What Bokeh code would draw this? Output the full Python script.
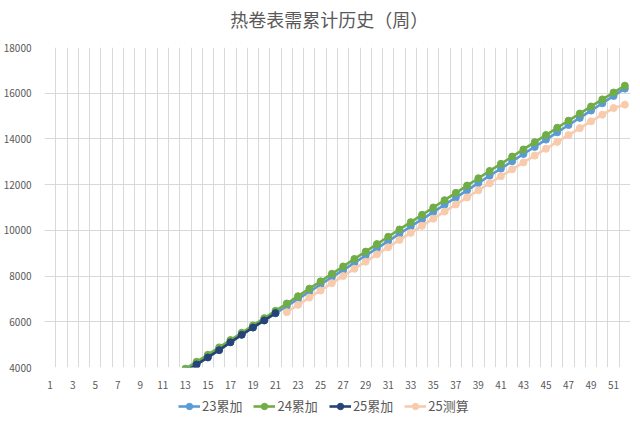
from bokeh.plotting import figure
from bokeh.models import Range1d, FixedTicker, Legend, LegendItem, Label
from bokeh.layouts import column
from bokeh.embed import file_html
from bokeh.resources import INLINE

weeks = list(range(1, 53))
week_ticks = list(range(1, 52, 2))

s23 = [290, 590, 890, 1190, 1490, 1790, 2090, 2390, 2700, 3000,
       3300, 3600, 3900, 4200, 4510, 4820, 5130, 5440, 5750, 6060,
       6370, 6680, 7000, 7310, 7630, 7950, 8260, 8580, 8900, 9210,
       9530, 9850, 10170, 10480, 10800, 11120, 11430, 11750, 12070, 12390,
       12700, 13020, 13340, 13650, 13970, 14290, 14610, 14920, 15240, 15560,
       15880, 16200]
s24 = [300, 610, 920, 1220, 1530, 1830, 2140, 2440, 2750, 3050,
       3350, 3650, 3950, 4250, 4560, 4880, 5200, 5520, 5840, 6160,
       6480, 6800, 7120, 7450, 7770, 8100, 8420, 8750, 9070, 9400,
       9720, 10040, 10360, 10680, 11000, 11320, 11640, 11960, 12280, 12600,
       12910, 13230, 13540, 13860, 14170, 14490, 14800, 15110, 15420, 15730,
       16030, 16330]
w25 = list(range(1, 22))
s25 = [280, 560, 850, 1140, 1430, 1720, 2010, 2310, 2600, 2900,
       3200, 3510, 3810, 4130, 4440, 4760, 5100, 5430, 5750, 6060, 6380]
w25e = list(range(22, 53))
s25e = [6420, 6740, 7060, 7370, 7690, 8000, 8320, 8630, 8950, 9260,
        9580, 9890, 10200, 10510, 10820, 11130, 11440, 11750, 12060, 12370,
        12670, 12970, 13270, 13570, 13870, 14170, 14470, 14770, 15060, 15350,
        15500]

series = [
    ("23累加", weeks, s23, "#5B9BD5"),
    ("24累加", weeks, s24, "#70AD47"),
    ("25累加", w25, s25, "#264478"),
    ("25测算", w25e, s25e, "#F8CBAD"),
]
title_text = "热卷表需累计历史（周）"

FONT = "Noto Sans CJK SC"
GREY = "#595959"
W = 632

# title strip
pt = figure(width=W, height=34, output_backend="svg", toolbar_location=None,
            x_axis_type=None, y_axis_type=None, min_border=0,
            x_range=Range1d(0, W), y_range=Range1d(0, 34))
pt.outline_line_color = None
pt.xgrid.visible = False
pt.ygrid.visible = False
pt.add_layout(Label(x=307, y=16, text=title_text, text_font=FONT,
                    text_font_size="18px", text_color=GREY,
                    text_align="center", text_baseline="middle"))

# main chart
p = figure(width=W, height=357, output_backend="svg", toolbar_location=None,
           x_range=Range1d(0.5, 52.5), y_range=Range1d(4000, 18000),
           min_border_left=40, min_border_right=2, min_border_top=13,
           min_border_bottom=24)
p.outline_line_color = None
p.background_fill_color = "white"
p.border_fill_color = "white"

p.xaxis.ticker = FixedTicker(ticks=week_ticks)
p.yaxis.ticker = FixedTicker(ticks=list(range(4000, 18001, 2000)))
for ax in (p.xaxis[0], p.yaxis[0]):
    ax.axis_line_color = None
    ax.major_tick_line_color = None
    ax.minor_tick_line_color = None
    ax.major_label_text_font = FONT
    ax.major_label_text_font_size = "10px"
    ax.major_label_text_color = GREY
p.xaxis.major_label_standoff = 7
p.yaxis.major_label_standoff = 7

p.xgrid.ticker = FixedTicker(ticks=[w - 0.5 for w in weeks] + [52.5])
p.xgrid.grid_line_color = "#D9D9D9"
p.ygrid.grid_line_color = "#D9D9D9"
p.xgrid.grid_line_width = 1
p.ygrid.grid_line_width = 1

for name, xs, ys, color in series:
    p.line(xs, ys, line_color=color, line_width=2.6)
    p.scatter(xs, ys, marker="circle", size=7, fill_color=color, line_color=color)

# legend strip (its renderers lie outside its view; only legend glyphs show)
pl = figure(width=W, height=25, output_backend="svg", toolbar_location=None,
            x_axis_type=None, y_axis_type=None, min_border=0,
            x_range=Range1d(-2, -1), y_range=Range1d(-2, -1))
pl.outline_line_color = None
pl.xgrid.visible = False
pl.ygrid.visible = False
items = []
for name, xs, ys, color in series:
    l = pl.line(xs, ys, line_color=color, line_width=2.6)
    s = pl.scatter(xs, ys, marker="circle", size=7, fill_color=color, line_color=color)
    items.append(LegendItem(label=name, renderers=[l, s]))

legend = Legend(items=items, orientation="horizontal", location=(134, 1),
                border_line_color=None, background_fill_alpha=0,
                label_text_font=FONT, label_text_font_size="13px",
                label_text_color=GREY, glyph_width=22, glyph_height=16,
                label_height=16, label_standoff=2, spacing=11,
                padding=0, margin=0)
pl.add_layout(legend, "center")

layout = column(pt, p, pl, spacing=0)
open("out.html", "w").write(file_html(layout, INLINE))
